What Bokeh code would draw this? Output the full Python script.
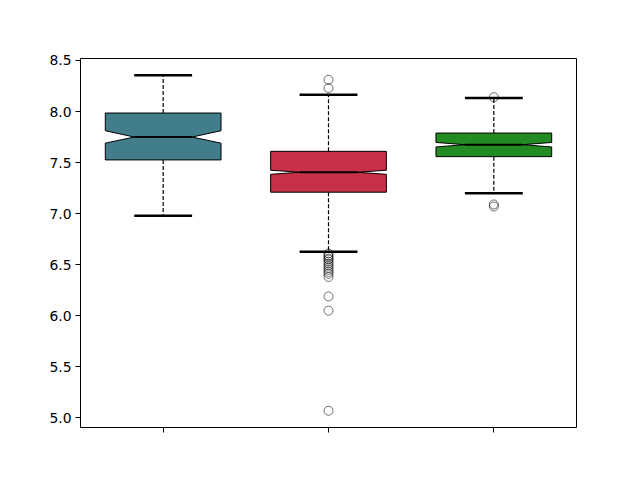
from bokeh.plotting import figure
from bokeh.models import Range1d, FixedTicker
from bokeh.embed import file_html
from bokeh.resources import INLINE

positions = [1, 2, 3]
q1 = [7.526, 7.21, 7.558]
median = [7.75, 7.405, 7.675]
q3 = [7.985, 7.61, 7.789]
notch_lo = [7.69, 7.385, 7.653]
notch_hi = [7.812, 7.425, 7.697]
whisker_lo = [6.98, 6.627, 7.20]
whisker_hi = [8.355, 8.163, 8.132]
colors = ["#427d8c", "#c8304a", "#228b22"]
outliers = [
    [],
    [8.31, 8.23, 6.61, 6.59, 6.58, 6.56, 6.55, 6.53, 6.51, 6.49, 6.47, 6.45,
     6.43, 6.41, 6.38, 6.19, 6.05, 5.07],
    [8.14, 7.09, 7.07],
]
y_ticks = [5.0, 5.5, 6.0, 6.5, 7.0, 7.5, 8.0, 8.5]

box_w = 0.7
cap_w = 0.35

p = figure(width=624, height=464, output_backend="svg", toolbar_location=None,
           frame_width=496, frame_height=369,
           min_border_left=80, min_border_right=48, min_border_top=58, min_border_bottom=37,
           x_range=Range1d(0.5, 3.5), y_range=Range1d(4.906, 8.519))
p.outline_line_color = "black"
p.outline_line_width = 1
p.xgrid.visible = False
p.ygrid.visible = False
p.background_fill_color = "white"
p.border_fill_color = "white"

for i, x in enumerate(positions):
    h = box_w / 2
    n = box_w / 4
    xs = [x - h, x - h, x - n, x - h, x - h, x + h, x + h, x + n, x + h, x + h]
    ys = [q1[i], notch_lo[i], median[i], notch_hi[i], q3[i], q3[i], notch_hi[i], median[i], notch_lo[i], q1[i]]
    p.segment(x0=[x, x], y0=[q3[i], q1[i]], x1=[x, x], y1=[whisker_hi[i], whisker_lo[i]],
              line_color="black", line_width=1.2, line_dash="4 2")
    p.patch(xs, ys, fill_color=colors[i], line_color="black", line_width=1)
    p.segment(x0=[x - cap_w / 2] * 2, y0=[whisker_hi[i], whisker_lo[i]],
              x1=[x + cap_w / 2] * 2, y1=[whisker_hi[i], whisker_lo[i]],
              line_color="black", line_width=2.5)
    p.segment(x0=[x - n], y0=[median[i]], x1=[x + n], y1=[median[i]],
              line_color="black", line_width=2)
    if outliers[i]:
        p.scatter(x=[x] * len(outliers[i]), y=outliers[i], marker="circle", size=9,
                  fill_color=None, line_color="black", line_alpha=0.55, line_width=1)

p.xaxis.ticker = FixedTicker(ticks=positions)
p.xaxis.major_label_overrides = {t: "" for t in positions}
p.xaxis.minor_tick_line_color = None
p.xaxis.major_tick_in = 0
p.xaxis.major_tick_out = 5
p.xaxis.axis_line_color = None

p.yaxis.ticker = FixedTicker(ticks=y_ticks)
p.yaxis.major_label_overrides = {t: f"{t:.1f}" for t in y_ticks}
p.yaxis.major_label_text_font = "DejaVu Sans"
p.yaxis.major_label_text_font_size = "13.9px"
p.yaxis.major_label_text_color = "black"
p.yaxis.minor_tick_line_color = None
p.yaxis.major_tick_in = 0
p.yaxis.major_tick_out = 5
p.yaxis.axis_line_color = None
p.yaxis.major_label_standoff = 4

open("out.html", "w").write(file_html(p, INLINE))
